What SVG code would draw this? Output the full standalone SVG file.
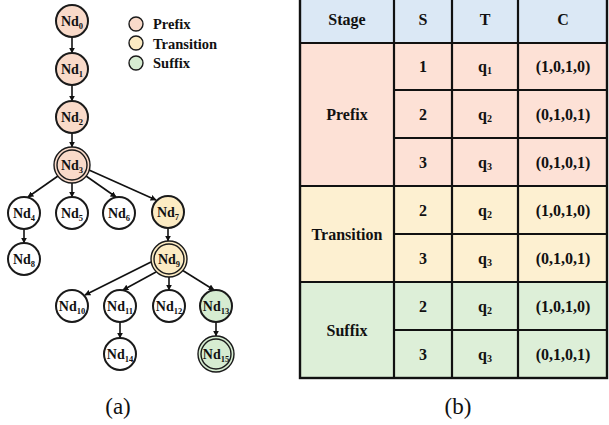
<svg xmlns="http://www.w3.org/2000/svg" width="609" height="425" viewBox="0 0 609 425">
  <style>
    .nd { stroke: #1a1a1a; stroke-width: 2; }
    .ring { stroke: #1a1a1a; stroke-width: 1.4; }
    .pre { fill: #f9dac9; }
    .tra { fill: #fcebc3; }
    .suf { fill: #d6ecd1; }
    .wht { fill: #ffffff; }
    .lbl { font-family: "Liberation Serif", "Times New Roman", serif; font-weight: bold; font-size: 14px; fill: #111; text-anchor: middle; }
    .sub { font-size: 8.5px; }
    .leg { font-family: "Liberation Serif", "Times New Roman", serif; font-weight: bold; font-size: 14.5px; fill: #111; }
    .edge { stroke: #111; stroke-width: 1.6; fill: none; marker-end: url(#ah); }
    .cell { stroke: #111; stroke-width: 2.2; }
    .tt { font-family: "Liberation Serif", "Times New Roman", serif; font-weight: bold; font-size: 16px; fill: #111; text-anchor: middle; }
    .tsub { font-size: 10px; }
    .cap { font-family: "Liberation Serif", "Times New Roman", serif; font-size: 23px; fill: #111; text-anchor: middle; }
  </style>
  <defs>
    <marker id="ah" viewBox="0 0 10 10" refX="9" refY="5" markerWidth="6" markerHeight="6" markerUnits="userSpaceOnUse" orient="auto">
      <path d="M0,0 L10,5 L0,10 z" fill="#111"/>
    </marker>
  </defs>

  <!-- tree connectors -->
  <g id="connectors">
    <line class="edge" x1="72" y1="37" x2="72" y2="53"/>
    <line class="edge" x1="72" y1="85" x2="72" y2="101"/>
    <line class="edge" x1="72" y1="133" x2="72" y2="147"/>
    <line class="edge" x1="58" y1="176" x2="28" y2="197"/>
    <line class="edge" x1="72" y1="183" x2="72" y2="197"/>
    <line class="edge" x1="86" y1="176" x2="116" y2="197"/>
    <line class="edge" x1="89" y1="170" x2="156" y2="200"/>
    <line class="edge" x1="24" y1="229" x2="24" y2="243"/>
    <line class="edge" x1="168" y1="228" x2="168" y2="241"/>
    <line class="edge" x1="151" y1="262" x2="85" y2="295"/>
    <line class="edge" x1="156" y1="272" x2="123" y2="290"/>
    <line class="edge" x1="169" y1="277" x2="169" y2="290"/>
    <line class="edge" x1="182" y1="270" x2="214" y2="290"/>
    <line class="edge" x1="120" y1="322" x2="120" y2="338"/>
    <line class="edge" x1="216" y1="322" x2="216" y2="336"/>
  </g>

  <!-- tree nodes -->
  <g id="nd0"><circle class="nd pre" cx="72" cy="21" r="16"/><text class="lbl" x="72" y="26">Nd<tspan class="sub" dy="3">0</tspan></text></g>
  <g id="nd1"><circle class="nd pre" cx="72" cy="69" r="16"/><text class="lbl" x="72" y="74">Nd<tspan class="sub" dy="3">1</tspan></text></g>
  <g id="nd2"><circle class="nd pre" cx="72" cy="117" r="16"/><text class="lbl" x="72" y="122">Nd<tspan class="sub" dy="3">2</tspan></text></g>
  <g id="nd3"><circle class="ring pre" cx="72" cy="165" r="18"/><circle class="ring pre" cx="72" cy="165" r="15"/><text class="lbl" x="72" y="170">Nd<tspan class="sub" dy="3">3</tspan></text></g>
  <g id="nd4"><circle class="nd wht" cx="24" cy="213" r="16"/><text class="lbl" x="24" y="218">Nd<tspan class="sub" dy="3">4</tspan></text></g>
  <g id="nd5"><circle class="nd wht" cx="72" cy="213" r="16"/><text class="lbl" x="72" y="218">Nd<tspan class="sub" dy="3">5</tspan></text></g>
  <g id="nd6"><circle class="nd wht" cx="119" cy="213" r="16"/><text class="lbl" x="119" y="218">Nd<tspan class="sub" dy="3">6</tspan></text></g>
  <g id="nd7"><circle class="nd tra" cx="168" cy="212" r="16"/><text class="lbl" x="168" y="217">Nd<tspan class="sub" dy="3">7</tspan></text></g>
  <g id="nd8"><circle class="nd wht" cx="24" cy="259" r="16"/><text class="lbl" x="24" y="264">Nd<tspan class="sub" dy="3">8</tspan></text></g>
  <g id="nd9"><circle class="ring tra" cx="169" cy="259" r="18"/><circle class="ring tra" cx="169" cy="259" r="15"/><text class="lbl" x="169" y="264">Nd<tspan class="sub" dy="3">9</tspan></text></g>
  <g id="nd10"><circle class="nd wht" cx="72" cy="306" r="16"/><text class="lbl" x="72" y="311">Nd<tspan class="sub" dy="3">10</tspan></text></g>
  <g id="nd11"><circle class="nd wht" cx="120" cy="306" r="16"/><text class="lbl" x="120" y="311">Nd<tspan class="sub" dy="3">11</tspan></text></g>
  <g id="nd12"><circle class="nd wht" cx="169" cy="306" r="16"/><text class="lbl" x="169" y="311">Nd<tspan class="sub" dy="3">12</tspan></text></g>
  <g id="nd13"><circle class="nd suf" cx="216" cy="306" r="16"/><text class="lbl" x="216" y="311">Nd<tspan class="sub" dy="3">13</tspan></text></g>
  <g id="nd14"><circle class="nd wht" cx="120" cy="354" r="16"/><text class="lbl" x="120" y="359">Nd<tspan class="sub" dy="3">14</tspan></text></g>
  <g id="nd15"><circle class="ring suf" cx="216" cy="354" r="18"/><circle class="ring suf" cx="216" cy="354" r="15"/><text class="lbl" x="216" y="359">Nd<tspan class="sub" dy="3">15</tspan></text></g>

  <!-- legend -->
  <g id="legend">
    <circle class="ring pre" cx="136" cy="24" r="7"/>
    <text class="leg" x="153" y="29">Prefix</text>
    <circle class="ring tra" cx="136" cy="43" r="7"/>
    <text class="leg" x="153" y="49">Transition</text>
    <circle class="ring suf" cx="136" cy="63" r="7"/>
    <text class="leg" x="153" y="68">Suffix</text>
  </g>

  <!-- table -->
  <g id="table">
    <rect x="300" y="-3" width="307" height="46" fill="#dbe8f5"/>
    <rect x="300" y="43" width="307" height="143" fill="#fde1d6"/>
    <rect x="300" y="186" width="307" height="96" fill="#fdf0d1"/>
    <rect x="300" y="282" width="307" height="96" fill="#ddefd8"/>
    <!-- horizontal rules -->
    <line class="cell" x1="300" y1="43" x2="607" y2="43"/>
    <line class="cell" x1="394" y1="90" x2="607" y2="90"/>
    <line class="cell" x1="394" y1="138" x2="607" y2="138"/>
    <line class="cell" x1="300" y1="186" x2="607" y2="186"/>
    <line class="cell" x1="394" y1="234" x2="607" y2="234"/>
    <line class="cell" x1="300" y1="282" x2="607" y2="282"/>
    <line class="cell" x1="394" y1="330" x2="607" y2="330"/>
    <!-- vertical rules -->
    <line class="cell" x1="394" y1="-3" x2="394" y2="378"/>
    <line class="cell" x1="452" y1="-3" x2="452" y2="378"/>
    <line class="cell" x1="518" y1="-3" x2="518" y2="378"/>
    <!-- frame -->
    <rect x="300" y="-3" width="307" height="381" fill="none" stroke="#111" stroke-width="2.4"/>

    <text class="tt" x="347" y="25">Stage</text>
    <text class="tt" x="423" y="25">S</text>
    <text class="tt" x="485" y="25">T</text>
    <text class="tt" x="563" y="25">C</text>

    <text class="tt" x="347" y="120">Prefix</text>
    <text class="tt" x="347" y="240">Transition</text>
    <text class="tt" x="347" y="336">Suffix</text>

    <text class="tt" x="423" y="72">1</text>
    <text class="tt" x="423" y="120">2</text>
    <text class="tt" x="423" y="168">3</text>
    <text class="tt" x="423" y="216">2</text>
    <text class="tt" x="423" y="264">3</text>
    <text class="tt" x="423" y="312">2</text>
    <text class="tt" x="423" y="360">3</text>

    <text class="tt" x="485" y="72">q<tspan class="tsub" dy="2">1</tspan></text>
    <text class="tt" x="485" y="120">q<tspan class="tsub" dy="2">2</tspan></text>
    <text class="tt" x="485" y="168">q<tspan class="tsub" dy="2">3</tspan></text>
    <text class="tt" x="485" y="216">q<tspan class="tsub" dy="2">2</tspan></text>
    <text class="tt" x="485" y="264">q<tspan class="tsub" dy="2">3</tspan></text>
    <text class="tt" x="485" y="312">q<tspan class="tsub" dy="2">2</tspan></text>
    <text class="tt" x="485" y="360">q<tspan class="tsub" dy="2">3</tspan></text>

    <text class="tt" x="563" y="72">(1,0,1,0)</text>
    <text class="tt" x="563" y="120">(0,1,0,1)</text>
    <text class="tt" x="563" y="168">(0,1,0,1)</text>
    <text class="tt" x="563" y="216">(1,0,1,0)</text>
    <text class="tt" x="563" y="264">(0,1,0,1)</text>
    <text class="tt" x="563" y="312">(1,0,1,0)</text>
    <text class="tt" x="563" y="360">(0,1,0,1)</text>
  </g>

  <!-- captions -->
  <text class="cap" x="118" y="414">(a)</text>
  <text class="cap" x="458" y="414">(b)</text>
</svg>
